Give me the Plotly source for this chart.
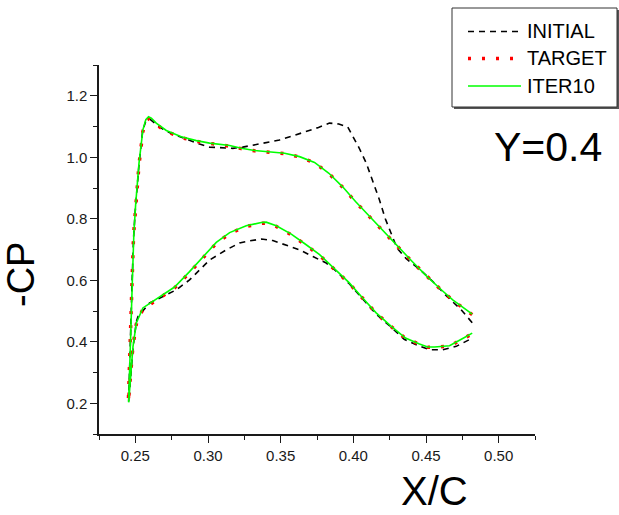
import plotly.graph_objects as go

# Pressure distribution at span station Y=0.4: -Cp against x/c.
# Each series runs from the upper-surface trailing edge to the leading edge
# and then back along the lower surface.

# ---- INITIAL ----
initial_upper_x = [0.4818, 0.4740, 0.4639, 0.4547, 0.4455, 0.4364, 0.4300, 0.4272, 0.4220,
                   0.4180, 0.4130, 0.4089, 0.4040, 0.3997, 0.3962, 0.3900, 0.3836, 0.3760,
                   0.3676, 0.3580, 0.3492, 0.3400, 0.3320, 0.3240, 0.3171, 0.3090, 0.3011,
                   0.2942, 0.2850, 0.2760, 0.2700, 0.2640, 0.2598, 0.2570, 0.2550, 0.2525,
                   0.2500, 0.2488, 0.2477, 0.2465, 0.2454]
initial_upper_cp = [0.462, 0.505, 0.550, 0.596, 0.636, 0.670, 0.705, 0.740, 0.800,
                    0.861, 0.925, 0.981, 1.030, 1.067, 1.098, 1.108, 1.111, 1.097,
                    1.083, 1.069, 1.056, 1.047, 1.040, 1.033, 1.029, 1.030, 1.033,
                    1.043, 1.058, 1.075, 1.088, 1.108, 1.125, 1.115, 1.085, 0.975,
                    0.830, 0.740, 0.585, 0.370, 0.203]
initial_lower_x = [0.2454, 0.2484, 0.2507, 0.2518, 0.2598, 0.2690, 0.2782, 0.2873, 0.3011,
                   0.3126, 0.3217, 0.3286, 0.3367, 0.3446, 0.3539, 0.3630, 0.3722, 0.3814,
                   0.3878, 0.3969, 0.4061, 0.4157, 0.4261, 0.4350, 0.4433, 0.4524, 0.4616,
                   0.4708, 0.4811]
initial_lower_cp = [0.203, 0.380, 0.465, 0.482, 0.526, 0.547, 0.569, 0.601, 0.666,
                    0.699, 0.721, 0.728, 0.734, 0.729, 0.715, 0.699, 0.677, 0.656,
                    0.631, 0.590, 0.541, 0.490, 0.447, 0.408, 0.390, 0.374, 0.374,
                    0.385, 0.410]

# ---- TARGET ----
target_upper_x = [0.4818, 0.4750, 0.4684, 0.4605, 0.4501, 0.4405, 0.4306, 0.4200, 0.4100,
                  0.4015, 0.3928, 0.3832, 0.3733, 0.3630, 0.3527, 0.3424, 0.3320, 0.3229,
                  0.3149, 0.3011, 0.2920, 0.2816, 0.2713, 0.2644, 0.2610, 0.2591, 0.2572,
                  0.2552, 0.2525, 0.2500, 0.2488, 0.2477, 0.2465, 0.2452]
target_upper_cp = [0.488, 0.511, 0.535, 0.568, 0.614, 0.660, 0.709, 0.761, 0.811,
                   0.855, 0.902, 0.947, 0.982, 1.001, 1.012, 1.016, 1.021, 1.028,
                   1.036, 1.045, 1.052, 1.064, 1.084, 1.106, 1.120, 1.125, 1.117,
                   1.084, 0.975, 0.835, 0.748, 0.588, 0.372, 0.203]
target_lower_x = [0.2452, 0.2483, 0.2507, 0.2552, 0.2667, 0.2770, 0.2873, 0.2965, 0.3057,
                  0.3149, 0.3263, 0.3367, 0.3400, 0.3470, 0.3573, 0.3671, 0.3768, 0.3871,
                  0.3969, 0.4061, 0.4157, 0.4261, 0.4359, 0.4455, 0.4512, 0.4558, 0.4662,
                  0.4765, 0.4818]
target_lower_cp = [0.203, 0.383, 0.458, 0.506, 0.544, 0.575, 0.625, 0.674, 0.720,
                   0.752, 0.775, 0.785, 0.786, 0.775, 0.748, 0.715, 0.681, 0.635,
                   0.591, 0.543, 0.493, 0.449, 0.411, 0.392, 0.382, 0.382, 0.386,
                   0.412, 0.426]

# ---- ITER10 ----
iter10_upper_x = [0.4818, 0.4750, 0.4684, 0.4605, 0.4501, 0.4405, 0.4306, 0.4200, 0.4100,
                  0.4015, 0.3928, 0.3832, 0.3733, 0.3630, 0.3527, 0.3424, 0.3320, 0.3229,
                  0.3149, 0.3011, 0.2920, 0.2816, 0.2713, 0.2644, 0.2610, 0.2591, 0.2572,
                  0.2552, 0.2525, 0.2502, 0.2490, 0.2479, 0.2466, 0.2454]
iter10_upper_cp = [0.490, 0.512, 0.536, 0.569, 0.615, 0.661, 0.710, 0.762, 0.812,
                   0.856, 0.903, 0.948, 0.983, 1.002, 1.013, 1.017, 1.022, 1.029,
                   1.038, 1.046, 1.054, 1.067, 1.087, 1.111, 1.127, 1.132, 1.122,
                   1.089, 0.980, 0.845, 0.753, 0.591, 0.374, 0.203]
iter10_lower_x = [0.2454, 0.2484, 0.2507, 0.2552, 0.2667, 0.2770, 0.2873, 0.2965, 0.3057,
                  0.3149, 0.3263, 0.3367, 0.3400, 0.3470, 0.3573, 0.3671, 0.3768, 0.3871,
                  0.3969, 0.4061, 0.4157, 0.4261, 0.4359, 0.4455, 0.4512, 0.4558, 0.4662,
                  0.4765, 0.4818]
iter10_lower_cp = [0.203, 0.385, 0.461, 0.510, 0.547, 0.578, 0.628, 0.677, 0.723,
                   0.755, 0.777, 0.788, 0.789, 0.777, 0.750, 0.717, 0.683, 0.637,
                   0.593, 0.544, 0.494, 0.450, 0.412, 0.393, 0.383, 0.383, 0.387,
                   0.414, 0.428]

series_names = ["INITIAL", "TARGET", "ITER10"]

W, H = 619, 515
L, R, T, B = 99, 84, 65, 81
PW, PH = W - L - R, H - T - B


def px(x):
    return (x - L) / PW


def py(y):
    return (H - B - y) / PH


FONT = "Liberation Sans, Arial, sans-serif"

styles = {
    "INITIAL": dict(color="black", width=1.6, dash="6px,5px"),
    "TARGET": dict(color="#ff0000", width=3.5, dash="3px,11px"),
    "ITER10": dict(color="#00ff00", width=1.6, dash="solid"),
}

data = {
    "INITIAL": (initial_upper_x + initial_lower_x, initial_upper_cp + initial_lower_cp),
    "TARGET": (target_upper_x + target_lower_x, target_upper_cp + target_lower_cp),
    "ITER10": (iter10_upper_x + iter10_lower_x, iter10_upper_cp + iter10_lower_cp),
}

fig = go.Figure()
for name in series_names:
    xs, ys = data[name]
    fig.add_trace(go.Scatter(x=xs, y=ys, mode="lines", name=name,
                             line=styles[name], showlegend=False))

axis_common = dict(
    showline=True, linecolor="#1a1a1a", linewidth=1.5, mirror=False,
    showgrid=False, zeroline=False, ticks="outside", ticklen=7, tickwidth=1.2,
    tickcolor="#1a1a1a", tickfont=dict(family=FONT, size=15, color="#1a1a1a"),
)
fig.update_xaxes(range=[0.225, 0.525], tick0=0, dtick=0.05, tickformat=".2f",
                 minor=dict(dtick=0.025, ticks="outside", ticklen=4, tickcolor="#1a1a1a",
                            tickwidth=1.2), **axis_common)
fig.update_yaxes(range=[0.1, 1.3], tick0=0, dtick=0.2, tickformat=".1f",
                 minor=dict(dtick=0.1, ticks="outside", ticklen=4, tickcolor="#1a1a1a",
                            tickwidth=1.2), **axis_common)

shapes = []
annotations = []

# legend box with drop shadow
bx0, bx1, by0, by1 = 452, 617, 8, 107
shapes.append(dict(type="rect", xref="paper", yref="paper",
                   x0=px(bx0 + 2), x1=px(bx1 + 2), y0=py(by0 + 2), y1=py(by1 + 2),
                   line=dict(width=0), fillcolor="#555555", layer="above"))
shapes.append(dict(type="rect", xref="paper", yref="paper",
                   x0=px(bx0), x1=px(bx1), y0=py(by0), y1=py(by1),
                   line=dict(color="#333333", width=1), fillcolor="white", layer="above"))
rows = [31.5, 58.5, 86]
for name, yy in zip(series_names, rows):
    st = styles[name]
    shapes.append(dict(type="line", xref="paper", yref="paper",
                       x0=px(468), x1=px(521), y0=py(yy), y1=py(yy),
                       line=dict(color=st["color"], width=st["width"], dash=st["dash"]),
                       layer="above"))
    annotations.append(dict(text=name, xref="paper", yref="paper", x=px(525), y=py(yy),
                            xanchor="left", yanchor="middle", showarrow=False,
                            font=dict(family=FONT, size=20, color="black")))

annotations.append(dict(text="Y=0.4", xref="paper", yref="paper", x=px(548), y=py(147),
                        xanchor="center", yanchor="middle", showarrow=False,
                        font=dict(family=FONT, size=41, color="black")))
annotations.append(dict(text="X/C", xref="paper", yref="paper", x=px(434), y=py(491),
                        xanchor="center", yanchor="middle", showarrow=False,
                        font=dict(family=FONT, size=40, color="black")))
annotations.append(dict(text="-CP", xref="paper", yref="paper", x=px(21), y=py(275),
                        xanchor="center", yanchor="middle", showarrow=False, textangle=-90,
                        font=dict(family=FONT, size=38, color="black")))

fig.update_layout(
    width=W, height=H, autosize=False,
    margin=dict(l=L, r=R, t=T, b=B, pad=0),
    paper_bgcolor="white", plot_bgcolor="white",
    shapes=shapes, annotations=annotations,
    font=dict(family=FONT),
)

fig.write_html("out.html", config={"displayModeBar": False})
